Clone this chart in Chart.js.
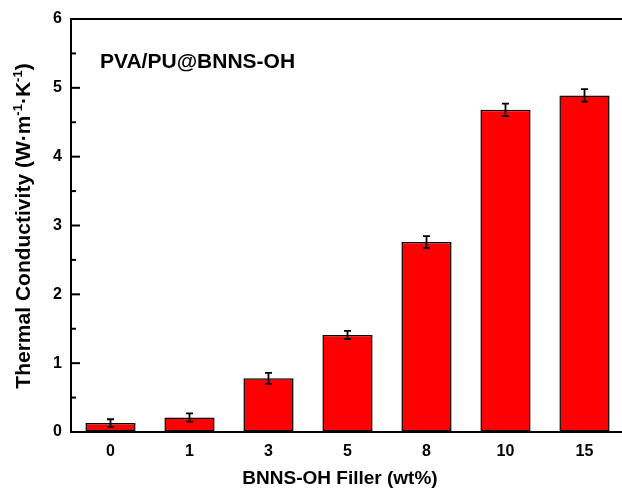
<!DOCTYPE html>
<html lang="en">
<head>
<meta charset="UTF-8">
<title>Thermal Conductivity</title>
<script src="https://cdn.jsdelivr.net/npm/chart.js"></script>
<style>
  html, body { margin: 0; padding: 0; overflow: hidden; background: #fff; }
  #wrap { width: 630px; height: 492px; }
</style>
</head>
<body>
<div id="wrap"><canvas id="tcChart" width="630" height="492"></canvas></div>
<script>
// data
const fillerLabels = ['0', '1', '3', '5', '8', '10', '15'];
const conductivity = [0.13, 0.21, 0.78, 1.41, 2.76, 4.68, 4.89];
const conductivityErr = [0.055, 0.06, 0.08, 0.06, 0.085, 0.09, 0.09];
const yTicks = [0, 1, 2, 3, 4, 5, 6];

const FONT = 'Arial, "Liberation Sans", sans-serif';

// error bars, inward ticks, frame line and titles
const extras = {
  id: 'extras',
  afterDatasetsDraw(chart) {
    const ctx = chart.ctx;
    const meta = chart.getDatasetMeta(0);
    const y = chart.scales.y;
    ctx.save();
    ctx.strokeStyle = '#000';
    ctx.lineWidth = 1.8;
    meta.data.forEach((bar, i) => {
      const v = conductivity[i], e = conductivityErr[i];
      const top = y.getPixelForValue(v + e);
      const bot = y.getPixelForValue(v - e);
      ctx.beginPath();
      ctx.moveTo(bar.x, top); ctx.lineTo(bar.x, bot);
      ctx.moveTo(bar.x - 3.5, top); ctx.lineTo(bar.x + 3.5, top);
      ctx.moveTo(bar.x - 3.5, bot); ctx.lineTo(bar.x + 3.5, bot);
      ctx.stroke();
    });
    ctx.restore();
  },
  afterDraw(chart) {
    const ctx = chart.ctx;
    const area = chart.chartArea;
    const y = chart.scales.y;
    ctx.save();
    ctx.strokeStyle = '#000';
    ctx.lineWidth = 2;
    // top frame line
    ctx.beginPath();
    ctx.moveTo(area.left - 1, area.top);
    ctx.lineTo(area.right + 20, area.top);
    ctx.stroke();
    // inward ticks on y axis, minor at halves
    for (let v = 0; v <= 6; v += 0.5) {
      const py = y.getPixelForValue(v);
      const len = Number.isInteger(v) ? 9 : 5;
      ctx.beginPath();
      ctx.moveTo(area.left, py);
      ctx.lineTo(area.left + len, py);
      ctx.stroke();
    }
    // annotation
    ctx.fillStyle = '#000';
    ctx.font = 'bold 21px ' + FONT;
    ctx.textBaseline = 'middle';
    ctx.textAlign = 'left';
    ctx.fillText('PVA/PU@BNNS-OH', 100, 62);
    // x title
    ctx.font = 'bold 19px ' + FONT;
    ctx.textAlign = 'center';
    ctx.fillText('BNNS-OH Filler (wt%)', 340, 479);
    // y title with superscripts
    const parts = [
      ['Thermal Conductivity (W·m', false],
      ['-1', true],
      ['·K', false],
      ['-1', true],
      [')', false]
    ];
    const big = 'bold 21px ' + FONT, small = 'bold 13px ' + FONT;
    let total = 0;
    parts.forEach(p => { ctx.font = p[1] ? small : big; total += ctx.measureText(p[0]).width; });
    ctx.translate(30, 226);
    ctx.rotate(-Math.PI / 2);
    ctx.textAlign = 'left';
    ctx.textBaseline = 'alphabetic';
    let x = -total / 2;
    parts.forEach(p => {
      ctx.font = p[1] ? small : big;
      ctx.fillText(p[0], x, p[1] ? -8 : 0);
      x += ctx.measureText(p[0]).width;
    });
    ctx.restore();
  }
};

new Chart(document.getElementById('tcChart').getContext('2d'), {
  type: 'bar',
  data: {
    labels: fillerLabels,
    datasets: [{
      data: conductivity,
      backgroundColor: '#ff0000',
      borderColor: '#000',
      borderWidth: 1.5,
      borderSkipped: false,
      categoryPercentage: 1,
      barPercentage: 0.635
    }]
  },
  options: {
    responsive: false,
    animation: false,
    events: [],
    layout: { padding: { top: 19, right: 6, left: 0, bottom: 0 } },
    plugins: { legend: { display: false }, tooltip: { enabled: false } },
    scales: {
      x: {
        grid: { display: true, drawOnChartArea: false, drawTicks: false, color: 'rgba(0,0,0,0)' },
        border: { display: true, color: '#000', width: 2 },
        ticks: { color: '#000', padding: 10, font: { family: FONT, size: 16, weight: 'bold' } },
        afterFit(s) { s.height = 60; }
      },
      y: {
        min: 0, max: 6,
        afterBuildTicks(s) { s.ticks = yTicks.map(v => ({ value: v })); },
        grid: { display: true, drawOnChartArea: false, drawTicks: false, color: 'rgba(0,0,0,0)' },
        border: { display: true, color: '#000', width: 2 },
        ticks: { color: '#000', padding: 9, font: { family: FONT, size: 16, weight: 'bold' } },
        afterFit(s) { s.width = 71; }
      }
    }
  },
  plugins: [extras]
});
</script>
</body>
</html>
